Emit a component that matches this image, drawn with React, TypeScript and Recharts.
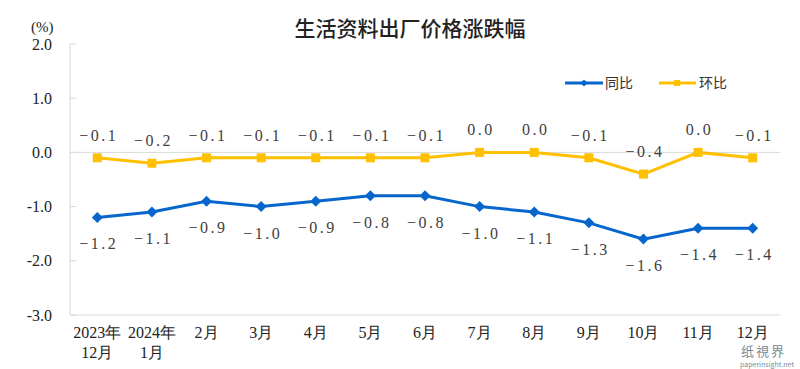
import React from 'react';
import { LineChart, Line, XAxis, YAxis, ReferenceLine, LabelList } from 'recharts';

const categories = ['2023年\n12月', '2024年\n1月', '2月', '3月', '4月', '5月', '6月', '7月', '8月', '9月', '10月', '11月', '12月'];
const yoy = [-1.2, -1.1, -0.9, -1.0, -0.9, -0.8, -0.8, -1.0, -1.1, -1.3, -1.6, -1.4, -1.4];
const mom = [-0.1, -0.2, -0.1, -0.1, -0.1, -0.1, -0.1, 0.0, 0.0, -0.1, -0.4, 0.0, -0.1];
const yTicks = [-3, -2, -1, 0, 1, 2];

const data = categories.map((month, i) => ({ month, yoy: yoy[i], mom: mom[i] }));

const BLUE = '#0766cc';
const YELLOW = '#ffc000';
const GRID = '#d9d9d9';
const SERIF = '"Liberation Serif", "Times New Roman", serif';
const SANS = '"Noto Sans CJK SC", "Noto Sans", sans-serif';

const fmt = (v: number) => v.toFixed(1).replace('-', '\u2212');

const Diamond = (props: any) => {
  const { cx, cy } = props;
  if (cx == null || cy == null) return null;
  return <path d={`M${cx},${cy - 5.5}L${cx + 5.5},${cy}L${cx},${cy + 5.5}L${cx - 5.5},${cy}Z`} fill={BLUE} />;
};

const Square = (props: any) => {
  const { cx, cy } = props;
  if (cx == null || cy == null) return null;
  return <rect x={cx - 4.5} y={cy - 4.5} width={9} height={9} fill={YELLOW} />;
};

const labelAbove = (props: any) => (
  <text x={props.x + 1.5} y={props.y - 17} textAnchor="middle" fontFamily={SERIF} fontSize={16} letterSpacing={2.5} fill="#404040">
    {fmt(props.value)}
  </text>
);

const labelBelow = (props: any) => (
  <text x={props.x + 1.5} y={props.y + 32} textAnchor="middle" fontFamily={SERIF} fontSize={16} letterSpacing={2.5} fill="#404040">
    {fmt(props.value)}
  </text>
);

const YTick = (props: any) => {
  const { y, payload } = props;
  return (
    <g>
      <line x1={70} x2={76} y1={y} y2={y} stroke={GRID} />
      <text x={52} y={y + 5.5} textAnchor="end" fontFamily={SERIF} fontSize={16} fill="#222">
        {payload.value.toFixed(1)}
      </text>
    </g>
  );
};

const XTick = (props: any) => {
  const { x, payload } = props;
  const lines = String(payload.value).split('\n');
  return (
    <text textAnchor="middle" fontFamily={SERIF} fontSize={16} fill="#222">
      {lines.map((t, i) => (
        <tspan key={i} x={x} y={338 + i * 19.5}>{t}</tspan>
      ))}
    </text>
  );
};

const LegendBox = () => (
  <svg width={200} height={20} style={{ position: 'absolute', left: 560, top: 73 }}>
    <line x1={5} x2={43} y1={10} y2={10} stroke={BLUE} strokeWidth={3} />
    <path d="M24,6.5L27.5,10L24,13.5L20.5,10Z" fill={BLUE} />
    <text x={45} y={15} fontFamily={SANS} fontSize={14} fill="#333">同比</text>
    <line x1={99} x2={136} y1={10} y2={10} stroke={YELLOW} strokeWidth={3} />
    <rect x={114} y={7} width={6} height={6} fill={YELLOW} />
    <text x={139} y={15} fontFamily={SANS} fontSize={14} fill="#333">环比</text>
  </svg>
);

export default function App() {
  return (
    <div style={{ position: 'relative', width: 800, height: 369, background: '#fff', overflow: 'hidden' }}>
      <style>{'body{margin:0}'}</style>
      <LineChart width={800} height={369} data={data} margin={{ top: 44, right: 20, bottom: 0, left: 0 }}>
        <text x={410} y={36} textAnchor="middle" fontFamily={SANS} fontSize={21} fontWeight={500} fill="#222">
          生活资料出厂价格涨跌幅
        </text>
        <text x={31} y={32} fontFamily={SERIF} fontSize={15} fill="#222">(%)</text>
        <XAxis
          dataKey="month"
          xAxisId="bottom"
          height={54}
          interval={0}
          padding={{ left: 27.3, right: 27.3 }}
          axisLine={{ stroke: GRID }}
          tickLine={false}
          tick={<XTick />}
        />
        <XAxis xAxisId="top" dataKey="month" orientation="top" height={0} tick={false} tickLine={false} axisLine={{ stroke: GRID }} />
        <YAxis
          yAxisId="left"
          width={70}
          domain={[-3, 2]}
          ticks={yTicks}
          interval={0}
          axisLine={{ stroke: GRID }}
          tickLine={false}
          tick={<YTick />}
        />
        <YAxis yAxisId="right" orientation="right" width={0} domain={[-3, 2]} tick={false} tickLine={false} axisLine={{ stroke: GRID }} />
        <ReferenceLine y={0} xAxisId="bottom" yAxisId="left" stroke={GRID} />
        <Line
          xAxisId="bottom"
          yAxisId="left"
          dataKey="mom"
          name="环比"
          stroke={YELLOW}
          strokeWidth={3}
          dot={<Square />}
          activeDot={false}
          isAnimationActive={false}
        >
          <LabelList dataKey="mom" content={labelAbove} />
        </Line>
        <Line
          xAxisId="bottom"
          yAxisId="left"
          dataKey="yoy"
          name="同比"
          stroke={BLUE}
          strokeWidth={3}
          dot={<Diamond />}
          activeDot={false}
          isAnimationActive={false}
        >
          <LabelList dataKey="yoy" content={labelBelow} />
        </Line>
      </LineChart>
      <LegendBox />
      <div style={{ position: 'absolute', left: 741, top: 344, fontFamily: SANS, fontSize: 13, lineHeight: 1, color: '#7a8a96', letterSpacing: 2 }}>纸視界</div>
      <div style={{ position: 'absolute', left: 740, top: 361, fontFamily: SANS, fontSize: 7, lineHeight: 1, color: '#7a8a96' }}>paperinsight.net</div>
    </div>
  );
}
